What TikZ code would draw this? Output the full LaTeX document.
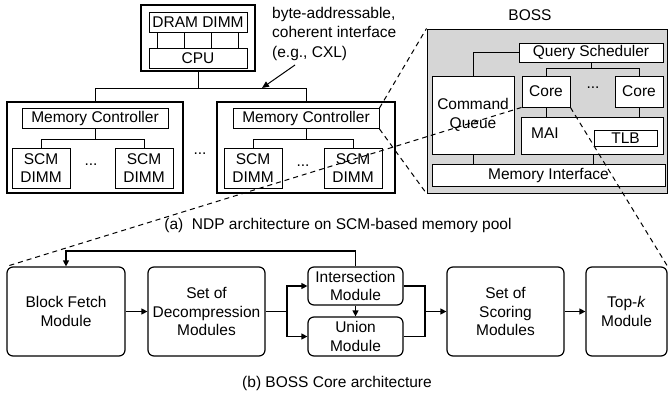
\documentclass[tikz,border=0pt]{standalone}
\usepackage{fontspec}
\setmainfont{Liberation Sans}
\usetikzlibrary{arrows.meta,calc}
\newcommand\myfs{\fontsize{15.5}{18.5}\selectfont}
\tikzset{
  box/.style={draw, line width=0.9pt, inner sep=0pt, align=center, font=\myfs, fill=white},
  outerbox/.style={draw, line width=1.4pt, inner sep=0pt},
  modbox/.style={draw, line width=1.2pt, rounded corners=6pt, inner sep=0pt, align=center, font=\myfs},
  txt/.style={inner sep=0pt, font=\myfs},
  ln/.style={line width=0.9pt},
  arr/.style={line width=1.2pt, -{Triangle[length=6pt,width=6pt]}},
  dsh/.style={line width=1pt, dash pattern=on 5pt off 4pt},
}
\begin{document}
\begin{tikzpicture}[x=1pt,y=-1pt]
\useasboundingbox (0,0) rectangle (669,399);
% ---------- top CPU ----------
\node[outerbox, minimum width=114, minimum height=66] (cpuouter) at (198,38) {};
\node[box, minimum width=98, minimum height=20] (dram) at (198,22) {DRAM DIMM};
\node[box, minimum width=98, minimum height=20] (cpu) at (198,58) {CPU};
\foreach \f in {0.095,0.365,0.635,0.905}{
  \draw[ln] ($(dram.south west)!\f!(dram.south east)$) -- ($(cpu.north west)!\f!(cpu.north east)$);
}
\node[txt, anchor=north west, align=left, font=\fontsize{15.5}{19.5}\selectfont] (annot) at (272,7)
  {byte-addressable,\\coherent interface\\(e.g., CXL)};
% ---------- memory boxes ----------
\node[outerbox, minimum width=176, minimum height=91] (memL) at (95,147.5) {};
\node[box, minimum width=146, minimum height=20] (mcL) at (95,118.5) {Memory Controller};
\node[box, minimum width=58, minimum height=40] (scmL1) at (41,168) {SCM\\DIMM};
\node[box, minimum width=58, minimum height=40] (scmL2) at (144,168) {SCM\\DIMM};
\node[txt] (dotsL) at (91,165) {...};
\node[outerbox, minimum width=178, minimum height=91] (memR) at (306,147.5) {};
\node[box, minimum width=146, minimum height=20] (mcR) at (306,118.5) {Memory Controller};
\node[box, minimum width=58, minimum height=40] (scmR1) at (253,168) {SCM\\DIMM};
\node[box, minimum width=58, minimum height=40] (scmR2) at (353,168) {SCM\\DIMM};
\node[txt] (dotsR) at (303,166) {...};
\node[txt] (dotsM) at (200,154) {...};
% bus
\coordinate (busy) at (0,88);
\draw[ln] (cpuouter.south) -- (cpuouter.south |- busy);
\draw[ln] (memL.north) |- (memR.north |- busy) -- (memR.north);
\coordinate (annstart) at (295,65);
\coordinate (annend) at (262,88);
\draw[line width=1pt, -{Triangle[length=7pt,width=6pt]}] (annstart) -- (annend);
% memory trees
\coordinate (tyL) at (0,139);
\draw[ln] (mcL.south) -- (mcL.south |- tyL);
\draw[ln] (scmL1.north) |- (scmL2.north |- tyL) -- (scmL2.north);
\draw[ln] (mcR.south) -- (mcR.south |- tyL);
\draw[ln] (scmR1.north) |- (scmR2.north |- tyL) -- (scmR2.north);
% ---------- BOSS ----------
\node[draw, line width=1pt, fill=black!16, minimum width=240, minimum height=164, inner sep=0pt] (boss) at (547,111) {};
\node[txt] (bosslabel) at (530,15) {BOSS};
\node[box, minimum width=144, minimum height=19] (qs) at (591,52.5) {Query Scheduler};
\node[box, minimum width=82, minimum height=78] (cq) at (473,115) {Command\\Queue};
\node[box, minimum width=48, minimum height=31] (core1) at (546,91.5) {Core};
\node[box, minimum width=48, minimum height=31] (core2) at (639,91.5) {Core};
\node[txt] (dotsC) at (593,88) {...};
\node[box, minimum width=142, minimum height=37] (mai) at (592,135.5) {};
\node[txt] (mailabel) at (545,133) {MAI};
\node[box, minimum width=63, minimum height=16] (tlb) at (625.5,138) {TLB};
\node[box, minimum width=233, minimum height=22] (mi) at (548.5,175) {Memory Interface};
\draw[ln] (qs.west) -| (cq.north);
\coordinate (cy) at (0,68);
\draw[ln] (qs.south) -- (qs.south |- cy);
\draw[ln] (core1.north) |- (core2.north |- cy) -- (core2.north);
\draw[ln] (core1.south) -- (core1.south |- mai.north);
\draw[ln] (core2.south) -- (core2.south |- mai.north);
\draw[ln] (cq.south) -- (cq.south |- mi.north);
\draw[ln] (mai.south -| tlb.west) -- (tlb.west |- mi.north);
% caption a
\node[txt] (capa) at (338,225) {(a)\ \ NDP architecture on SCM-based memory pool};
% ---------- bottom ----------
\node[modbox, minimum width=118, minimum height=89] (bfm) at (66,311.5) {Block Fetch\\Module};
\node[modbox, minimum width=117, minimum height=89] (dec) at (206.5,311.5) {Set of\\Decompression\\Modules};
\node[modbox, minimum width=95, minimum height=38] (inter) at (355.5,286) {Intersection\\Module};
\node[modbox, minimum width=95, minimum height=39] (union) at (355.5,336.5) {Union\\Module};
\node[modbox, minimum width=117, minimum height=89] (score) at (505.5,311.5) {Set of\\Scoring\\Modules};
\node[modbox, minimum width=81, minimum height=89] (topk) at (626.5,311.5) {Top-\textit{k}\\Module};
\draw[arr] (bfm.east) -- (dec.west);
\coordinate (jL) at (287,311.5);
\coordinate (jR) at (425,311.5);
\draw[line width=1.2pt] (dec.east) -- (jL);
\draw[arr] (jL) |- (inter.west);
\draw[arr] (jL) |- (union.west);
\draw[arr] (inter.south) -- (union.north);
\draw[line width=1.2pt] (inter.east) -| (jR);
\draw[line width=1.2pt] (union.east) -| (jR);
\draw[arr] (jR) -- (score.west);
\draw[arr] (score.east) -- (topk.west);
\coordinate (fb) at (0,251);
\draw[arr] (inter.north) |- (bfm.north |- fb) -- (bfm.north);
\node[txt] (capb) at (337,383) {(b) BOSS Core architecture};
% ---------- dashed zoom lines ----------
\draw[dsh] (mcR.north east) -- (boss.north west);
\draw[dsh] (mcR.south east) -- (boss.south west);
\draw[dsh] (core1.south west) -- (bfm.north west);
\draw[dsh] (core1.south east) -- (topk.north east);
\end{tikzpicture}
\end{document}
